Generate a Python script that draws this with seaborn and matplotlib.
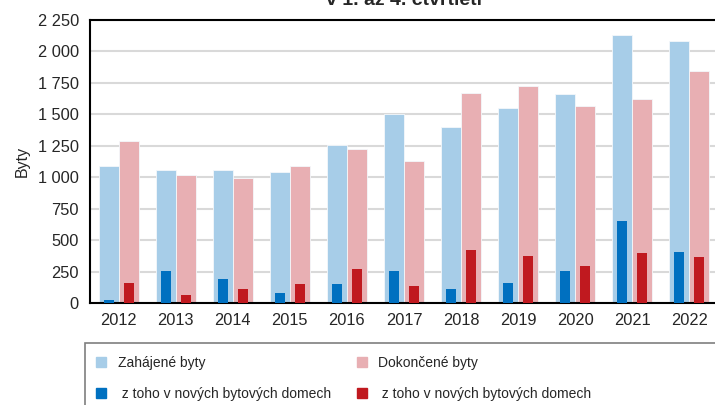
import matplotlib
matplotlib.use("Agg")
import matplotlib.pyplot as plt
from matplotlib.lines import Line2D
from matplotlib.patches import Rectangle
from matplotlib.ticker import FuncFormatter, FixedLocator, MultipleLocator
import seaborn as sns
import pandas as pd

years = ["2012", "2013", "2014", "2015", "2016", "2017", "2018", "2019", "2020", "2021", "2022"]
zahajene = [1092, 1058, 1058, 1042, 1256, 1502, 1397, 1548, 1661, 2129, 2087]
dokoncene = [1290, 1018, 992, 1092, 1222, 1132, 1669, 1724, 1566, 1621, 1846]
zahajene_bd = [24, 251, 190, 76, 151, 256, 113, 156, 256, 653, 405]
dokoncene_bd = [161, 63, 108, 153, 267, 137, 423, 375, 296, 399, 365]

lab_z = "Zahájené byty"
lab_d = "Dokončené byty"
lab_bd = " z toho v nových bytových domech"
title = "v 1. až 4. čtvrtletí"
ylabel = "Byty"

c_z, c_d = "#A7CDE8", "#E8AFB3"
c_zb, c_db = "#0070C0", "#C0191F"

sns.set_style("white")
plt.rcParams["font.family"] = ["Liberation Sans", "DejaVu Sans"]

light = pd.DataFrame({
    "rok": years * 2,
    "hodnota": zahajene + dokoncene,
    "typ": [lab_z] * len(years) + [lab_d] * len(years),
})
dark = pd.DataFrame({
    "rok": years * 2,
    "hodnota": zahajene_bd + dokoncene_bd,
    "typ": [lab_z] * len(years) + [lab_d] * len(years),
})

fig = plt.figure(figsize=(7.15, 4.05), dpi=100)
# axes end at the figure's right edge; the last category is partly cut as in the reference
ax = fig.add_axes([90 / 715, 1 - 303 / 405, 625 / 715, 283 / 405])

sns.barplot(data=light, x="rok", y="hodnota", hue="typ", hue_order=[lab_z, lab_d],
            palette=[c_z, c_d], width=0.7, dodge=True, ax=ax, legend=False,
            saturation=1, linewidth=0.6, edgecolor="#F4F8FB", zorder=2)
sns.barplot(data=dark, x="rok", y="hodnota", hue="typ", hue_order=[lab_z, lab_d],
            palette=[c_zb, c_db], width=0.7, gap=0.5, dodge=True, ax=ax, legend=False,
            saturation=1, linewidth=0, zorder=3)

ax.set_xlim(-0.5, -0.5 + len(years) * 625 / 628)
ax.set_ylim(0, 2250)
ax.yaxis.set_major_locator(MultipleLocator(250))
ax.yaxis.set_major_formatter(FuncFormatter(lambda v, p: f"{int(v):,}".replace(",", " ")))
ax.grid(axis="y", color="#D9D9D9", linewidth=1.5, zorder=0)
ax.set_axisbelow(True)

ax.xaxis.set_minor_locator(FixedLocator([i - 0.5 for i in range(len(years))]))
ax.tick_params(axis="x", which="major", length=0, labelsize=11.8, pad=7)
ax.tick_params(axis="x", which="minor", length=5, width=1.2, color="black", direction="out")
ax.tick_params(axis="y", length=5, width=1.2, color="black", direction="out", labelsize=11.8, pad=3)
ax.set_xlabel("")
ax.set_ylabel(ylabel, fontsize=11.5, labelpad=6)

for s in ["left", "bottom", "top"]:
    ax.spines[s].set_visible(True)
    ax.spines[s].set_color("black")
    ax.spines[s].set_linewidth(1.5)
ax.spines["right"].set_visible(False)

fig.text(404 / 715, 1 - 5 / 405, title, ha="center", va="baseline",
         fontsize=14, fontweight="bold")

# legend box (runs past the right and bottom edges, as in the reference)
fig.patches.append(Rectangle((85 / 715, -0.05), 0.95, (1 - 343 / 405) + 0.05,
                             transform=fig.transFigure, facecolor="white",
                             edgecolor="#7F7F7F", linewidth=1.2))

handles = [
    Line2D([], [], marker="s", linestyle="none", markersize=7, color=c_z),
    Line2D([], [], marker="s", linestyle="none", markersize=7, color=c_zb),
    Line2D([], [], marker="s", linestyle="none", markersize=7, color=c_d),
    Line2D([], [], marker="s", linestyle="none", markersize=7, color=c_db),
]
labels = [lab_z, lab_bd, lab_d, lab_bd]
fig.legend(handles, labels, loc="upper left", bbox_to_anchor=(94 / 715, 1 - 356 / 405),
           ncol=2, frameon=False, fontsize=10, handlelength=1.0, handletextpad=0.7,
           columnspacing=1.73, labelspacing=1.23, borderaxespad=0, borderpad=0)

fig.savefig("out.png", dpi=100)
